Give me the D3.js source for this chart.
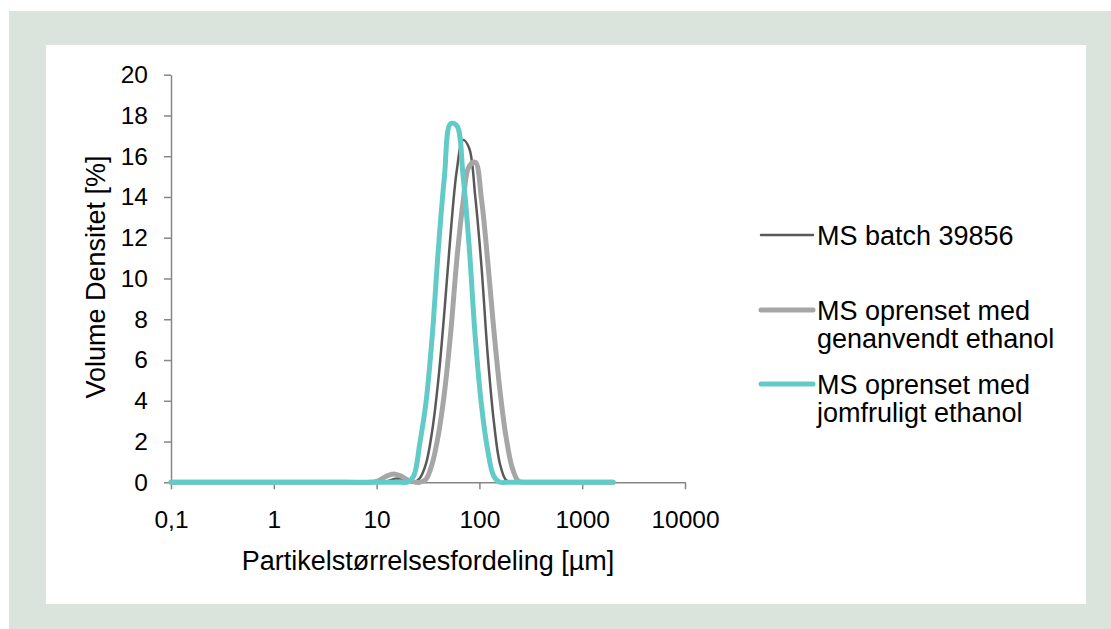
<!DOCTYPE html>
<html>
<head>
<meta charset="utf-8">
<script src="https://cdn.jsdelivr.net/npm/d3@7"></script>
<style>
	body { margin: 0; background: #fff; }
	svg text { font-family: "Liberation Sans", Arial, sans-serif; fill: #000; }
</style>
</head>
<body>
<svg id="chart" width="1111" height="629"></svg>
<script>
'use strict';

// particle sizes (µm), shared by all three series
var sizes = [0.1, 0.5, 1, 5, 8.71, 10, 11.482, 13.183, 15.136, 17.378, 19.953, 22.909, 26.303, 30.2,
	34.674, 39.811, 45.709, 52.481, 60.256, 69.183, 79.433, 91.201, 104.713, 120.226, 138.038,
	158.489, 181.97, 208.93, 239.883, 275.423, 316.228, 500, 1000, 2000];

// volume density [%]
var batchValues = [0, 0, 0, 0, 0, 0, 0, 0.08, 0.18, 0.18, 0.08, 0, 0.2, 0.9,
	2.5, 5.0, 8.4, 12.2, 15.3, 16.8, 16.4, 14.0, 10.6, 6.3, 3.0,
	0.9, 0.1, 0, 0, 0, 0, 0, 0, 0];
var recycledValues = [0, 0, 0, 0, 0, 0.05, 0.2, 0.35, 0.4, 0.3, 0.12, 0.02, 0, 0.15,
	0.9, 2.3, 4.4, 7.3, 10.9, 13.7, 15.5, 15.7, 13.9, 10.9, 7.5,
	4.5, 2.2, 0.7, 0.05, 0, 0, 0, 0, 0];
var virginValues = [0, 0, 0, 0, 0, 0, 0, 0, 0, 0, 0, 0.3, 1.9, 3.9,
	7.1, 11.4, 15.0, 17.6, 17.5, 15.1, 11.6, 7.1, 3.8, 1.6, 0.3,
	0, 0, 0, 0, 0, 0, 0, 0, 0];

var seriesNames = [['MS batch 39856'], ['MS oprenset med', 'genanvendt ethanol'], ['MS oprenset med', 'jomfruligt ethanol']];
var seriesColors = ['#595959', '#a6a6a6', '#62cbc7'];
var seriesWidths = [2.5, 5, 5];
var seriesValues = [batchValues, recycledValues, virginValues];

var xTickValues = [0.1, 1, 10, 100, 1000, 10000];
var yTickValues = [0, 2, 4, 6, 8, 10, 12, 14, 16, 18, 20];

var svg = d3.select('#chart');

// frame
svg.append('rect').attr('x', 9).attr('y', 11).attr('width', 1102).attr('height', 618).attr('fill', '#dae4dd');
svg.append('rect').attr('x', 46).attr('y', 45).attr('width', 1040).attr('height', 559).attr('fill', '#fff');

var x = d3.scaleLog().domain([0.1, 10000]).range([171, 685]);
var y = d3.scaleLinear().domain([0, 20]).range([482.3, 74.7]);

var fmt = function(d){ return String(d).replace('.', ','); };

var gx = svg.append('g')
	.attr('transform', 'translate(0,' + y(0) + ')')
	.call(d3.axisBottom(x).tickValues(xTickValues).tickFormat(fmt).tickSize(7).tickSizeOuter(0).tickPadding(21));
var gy = svg.append('g')
	.attr('transform', 'translate(' + x(0.1) + ',0)')
	.call(d3.axisLeft(y).tickValues(yTickValues).tickSize(7).tickSizeOuter(0).tickPadding(16));

[gx, gy].forEach(function(g){
	g.selectAll('path, line').attr('stroke', '#868686').attr('stroke-width', 1.5);
	g.selectAll('text').attr('font-size', 24.5).attr('fill', '#000');
});

// axis titles
svg.append('text')
	.attr('x', 428).attr('y', 570)
	.attr('text-anchor', 'middle').attr('font-size', 27)
	.text('Partikelstørrelsesfordeling [µm]');
svg.append('text')
	.attr('transform', 'translate(105,' + 277 + ') rotate(-90)')
	.attr('text-anchor', 'middle').attr('font-size', 27)
	.text('Volume Densitet [%]');

// curves
var line = d3.line()
	.x(function(d){ return x(d[0]); })
	.y(function(d){ return y(d[1]); })
	.curve(d3.curveCatmullRom.alpha(0.5));

svg.append('g').selectAll('path')
	.data(seriesValues)
	.enter()
	.append('path')
		.attr('d', function(vals){ return line(sizes.map(function(s, i){ return [s, vals[i]]; })); })
		.attr('fill', 'none')
		.attr('stroke', function(d, i){ return seriesColors[i]; })
		.attr('stroke-width', function(d, i){ return seriesWidths[i]; })
		.attr('stroke-linejoin', 'round')
		.attr('stroke-linecap', 'round');

// legend
var legendY = [235, 310, 384];
var legend = svg.append('g').selectAll('g')
	.data(seriesNames)
	.enter()
	.append('g')
		.attr('transform', function(d, i){ return 'translate(0,' + legendY[i] + ')'; });
legend.append('line')
	.attr('x1', 761).attr('x2', 813).attr('y1', 0).attr('y2', 0)
	.attr('stroke', function(d, i){ return seriesColors[i]; })
	.attr('stroke-width', function(d, i){ return seriesWidths[i]; })
	.attr('stroke-linecap', 'round');
legend.append('text')
	.attr('x', 817).attr('y', 9.5)
	.attr('font-size', 27)
	.selectAll('tspan')
	.data(function(d){ return d; })
	.enter()
	.append('tspan')
		.attr('x', 817)
		.attr('dy', function(d, i){ return i ? 28 : 0; })
		.text(function(d){ return d; });
</script>
</body>
</html>
